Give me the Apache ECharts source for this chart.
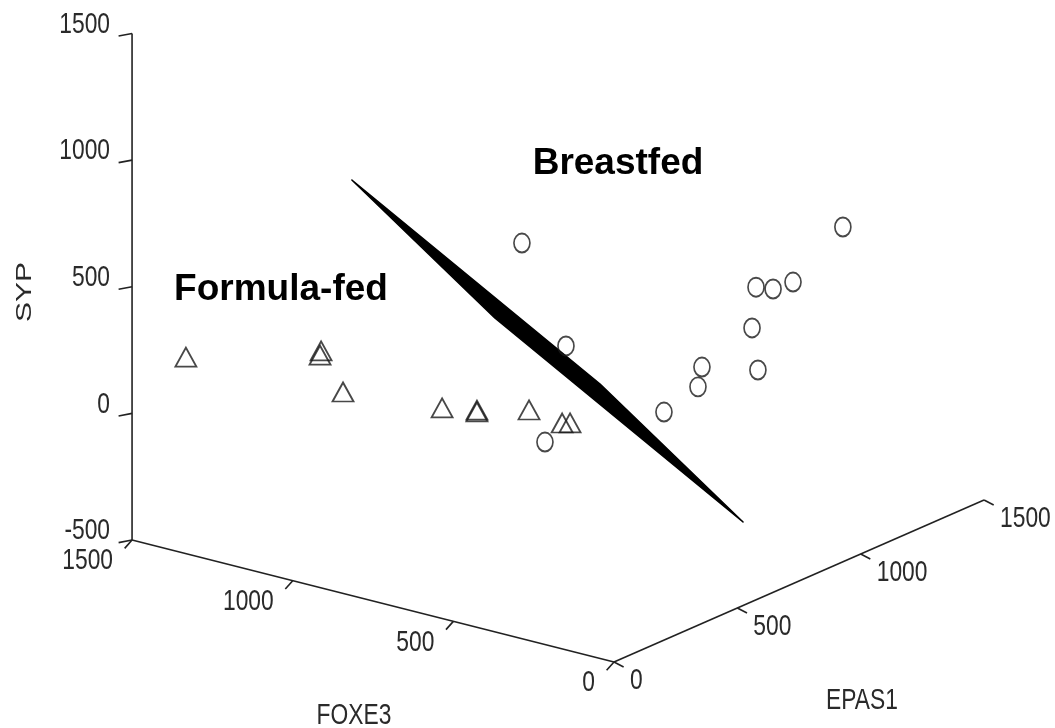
<!DOCTYPE html>
<html><head><meta charset="utf-8">
<script src="https://cdn.jsdelivr.net/npm/echarts@6/dist/echarts.min.js"></script>
<style>html,body{margin:0;padding:0;background:#fff}#c{width:1055px;height:728px}</style>
</head><body><div id="c"></div>
<script>
// ---- axis ticks ----
const foxe3Ticks = [0, 500, 1000, 1500];
const epas1Ticks = [0, 500, 1000, 1500];
const sypTicks = [-500, 0, 500, 1000, 1500];

// ---- Formula-fed (triangles): FOXE3, EPAS1, SYP ----
const formulaFOXE3 = [1400, 1100, 1000, 1000, 750, 700, 650, 600, 500, 480];
const formulaEPAS1 = [88, 241, 115, 204, 280, 356, 291, 437, 441, 447];
const formulaSYP   = [217, 256, 358, 158, 143, 111, 162, 116, 95, 99];

// ---- Breastfed (circles) ----
const breastFOXE3 = [500, 300, 350, 200, 200, 250, 150, 100, 150, 200, 250, 100];
const breastEPAS1 = [278, 196, 176, 463, 617, 666, 771, 775, 921, 820, 909, 1058];
const breastSYP   = [875, 568, 181, 225, 337, 222, 603, 610, 559, 405, 185, 734];

// ---- separating plane corners ----
const planeFOXE3 = [1100, 200, 0, 900];
const planeEPAS1 = [370, 204, 523, 689];
const planeSYP   = [892, 446, -170, 276];

// ---- orthographic view (camera) ----
const view = {ox: 614, oy: 662, fx: -0.3213, fy: -0.0813, ex: 0.2467, ey: -0.108, sy: -0.2533, sMin: -500};
function proj(f, e, s) {
  return [view.ox + view.fx * f + view.ex * e,
          view.oy + view.fy * f + view.ey * e + view.sy * (s - view.sMin)];
}

const FMAX = 1500, EMAX = 1500, SMIN = -500, SMAX = 1500;

// axis + tick segments
const segs = [];
function seg(a, b) { segs.push([a[0], a[1], b[0], b[1]]); }
seg(proj(FMAX, 0, SMIN), proj(FMAX, 0, SMAX));
seg(proj(0, 0, SMIN), proj(FMAX, 0, SMIN));
seg(proj(0, 0, SMIN), proj(0, EMAX, SMIN));
sypTicks.forEach(s => seg(proj(FMAX, 0, s), proj(FMAX + 15, -35, s)));
foxe3Ticks.forEach(f => seg(proj(f, 0, SMIN), proj(f, -30, SMIN - 20)));
epas1Ticks.forEach(e => seg(proj(0, e, SMIN), proj(-30, e, SMIN - 10)));

// tick labels
const labPos = [], labTxt = [], labAlign = [], labDx = [], labDy = [];
sypTicks.forEach(s => { labPos.push(proj(FMAX, 0, s)); labTxt.push(String(s)); labAlign.push('right'); labDx.push(-22); labDy.push(-9); });
foxe3Ticks.forEach(f => { labPos.push(proj(f, 0, SMIN)); labTxt.push(String(f)); labAlign.push('right'); labDx.push(-19); labDy.push(21); });
epas1Ticks.forEach(e => { labPos.push(proj(0, e, SMIN)); labTxt.push(String(e)); labAlign.push('left'); labDx.push(16); labDy.push(19); });

const AXF = '"Liberation Sans", Arial, Helvetica, sans-serif';
const AXS = 30;      // axis font size
const SQ = 0.76;     // horizontal squeeze of axis text (narrow look)

const plane = [];
for (let i = 0; i < 4; i++) { const p = proj(planeFOXE3[i], planeEPAS1[i], planeSYP[i]); plane.push(p[0], p[1]); }

const formulaData = formulaFOXE3.map((f, i) => proj(f, formulaEPAS1[i], formulaSYP[i]));
const breastData = breastFOXE3.map((f, i) => proj(f, breastEPAS1[i], breastSYP[i]));

function axText(txt, x, y, extra) {
  return Object.assign({type: 'text', x: x, y: y, scaleX: SQ, silent: true,
    style: {text: txt, x: 0, y: 0, fill: '#2a2a2a', fontSize: AXS, fontFamily: AXF, align: 'center', verticalAlign: 'middle', textAlign: 'center', textVerticalAlign: 'middle'}}, extra || {});
}

const chart = echarts.init(document.getElementById('c'), null, {renderer: 'canvas'});
chart.setOption({
  animation: false,
  backgroundColor: '#fff',
  grid: {left: 0, right: 0, top: 0, bottom: 0},
  xAxis: {type: 'value', min: 0, max: 1055, show: false},
  yAxis: {type: 'value', min: 0, max: 728, inverse: true, show: false},
  graphic: [
    axText('FOXE3', 354, 716),
    axText('EPAS1', 862, 701),
    axText('SYP', 25, 292, {rotation: Math.PI / 2, scaleX: 1, scaleY: SQ}),
    {type: 'text', x: 618, y: 164, style: {text: 'Breastfed', fill: '#000', fontSize: 37, fontWeight: 'bold', fontFamily: AXF, align: 'center', verticalAlign: 'middle', textAlign: 'center', textVerticalAlign: 'middle'}},
    {type: 'text', x: 281, y: 290, style: {text: 'Formula-fed', fill: '#000', fontSize: 37, fontWeight: 'bold', fontFamily: AXF, align: 'center', verticalAlign: 'middle', textAlign: 'center', textVerticalAlign: 'middle'}}
  ],
  series: [
    {
      type: 'custom', name: 'axes', z: 2, silent: true,
      data: segs,
      renderItem: function (params, api) {
        const a = api.coord([api.value(0), api.value(1)]);
        const b = api.coord([api.value(2), api.value(3)]);
        return {type: 'line', shape: {x1: a[0], y1: a[1], x2: b[0], y2: b[1]}, style: {stroke: '#222', lineWidth: 1.6}};
      }
    },
    {
      type: 'custom', name: 'ticklabels', z: 2, silent: true,
      data: labPos,
      renderItem: function (params, api) {
        const i = params.dataIndex;
        const p = api.coord([api.value(0), api.value(1)]);
        return {type: 'text', x: p[0] + labDx[i], y: p[1] + labDy[i], scaleX: SQ,
          style: {text: labTxt[i], x: 0, y: 0, fill: '#2a2a2a', fontSize: AXS, fontFamily: AXF, align: labAlign[i], verticalAlign: 'middle'}};
      }
    },
    {
      type: 'custom', name: 'plane', z: 1, silent: true,
      data: [plane],
      renderItem: function (params, api) {
        const pts = [];
        for (let k = 0; k < 4; k++) pts.push(api.coord([api.value(2 * k), api.value(2 * k + 1)]));
        return {type: 'polygon', shape: {points: pts}, style: {fill: '#000', stroke: '#000', lineWidth: 1.5, lineJoin: 'round'}};
      }
    },
    {
      type: 'scatter', name: 'Formula-fed', z: 3, symbol: 'triangle', symbolSize: [21, 19],
      data: formulaData,
      itemStyle: {color: 'rgba(0,0,0,0)', borderColor: '#1a1a1a', borderWidth: 1.8}
    },
    {
      type: 'scatter', name: 'Breastfed', z: 3, symbol: 'circle', symbolSize: [16, 19],
      data: breastData,
      itemStyle: {color: 'rgba(0,0,0,0)', borderColor: '#1a1a1a', borderWidth: 1.8}
    }
  ]
});
</script>
</body></html>
